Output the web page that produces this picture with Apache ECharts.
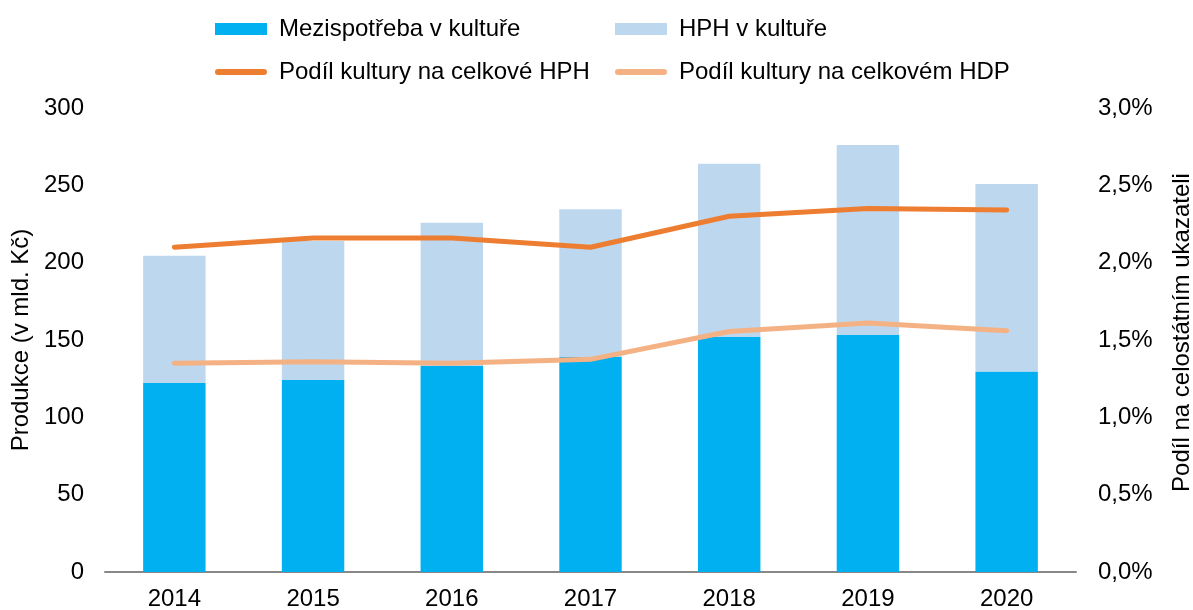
<!DOCTYPE html>
<html>
<head>
<meta charset="utf-8">
<script src="https://cdn.jsdelivr.net/npm/echarts@6/dist/echarts.min.js"></script>
<style>
  html, body { margin: 0; padding: 0; background: #fff; overflow: hidden; }
  #chart { width: 1193px; height: 610px; }
</style>
</head>
<body>
<div id="chart"></div>
<script>
// roky
var years = ['2014', '2015', '2016', '2017', '2018', '2019', '2020'];
// mld. Kč
var mezispotreba = [122.2, 124.1, 133.2, 139.0, 151.9, 153.2, 129.7];
var hph = [82.2, 89.9, 92.6, 95.5, 112.1, 122.8, 121.1];
// podíly v %
var podilHPH = [2.10, 2.16, 2.16, 2.10, 2.30, 2.35, 2.34];
var podilHDP = [1.35, 1.36, 1.35, 1.375, 1.555, 1.61, 1.56];

var font = 'Liberation Sans, Arial, sans-serif';
var txt = { color: '#000', fontSize: 24, fontFamily: font, padding: [0, 0, 0, 7] };
// ikona čáry v legendě (zaoblená)
var lineIcon = 'path://M3,0 L49,0 A3,3 0 0 1 49,6 L3,6 A3,3 0 0 1 3,0 Z';

var chart = echarts.init(document.getElementById('chart'));

chart.setOption({
  animation: false,
  textStyle: { fontFamily: font },
  legend: [
    {
      left: 210, top: 12, orient: 'vertical', itemGap: 19,
      itemWidth: 52, itemHeight: 12, textStyle: txt,
      data: [
        { name: 'Mezispotřeba v kultuře', icon: 'rect' },
        { name: 'Podíl kultury na celkové HPH', icon: lineIcon }
      ]
    },
    {
      left: 610, top: 12, orient: 'vertical', itemGap: 19,
      itemWidth: 52, itemHeight: 12, textStyle: txt,
      data: [
        { name: 'HPH v kultuře', icon: 'rect' },
        { name: 'Podíl kultury na celkovém HDP', icon: lineIcon }
      ]
    }
  ],
  grid: { left: 105, right: 117, top: 108, bottom: 38, outerBoundsMode: 'none' },
  xAxis: {
    type: 'category',
    data: years,
    axisLine: { lineStyle: { color: '#888', width: 2 } },
    axisTick: { show: false },
    axisLabel: { color: '#000', fontSize: 24, margin: 15 }
  },
  yAxis: [
    {
      type: 'value', min: 0, max: 300, interval: 50,
      name: 'Produkce (v mld. Kč)', nameLocation: 'middle', nameGap: 67,
      nameTextStyle: { color: '#000', fontSize: 24 },
      axisLine: { show: false }, axisTick: { show: false }, splitLine: { show: false },
      axisLabel: { color: '#000', fontSize: 24, margin: 21 }
    },
    {
      type: 'value', min: 0, max: 3, interval: 0.5,
      name: 'Podíl na celostátním ukazateli', nameLocation: 'middle', nameGap: 94,
      nameRotate: 90,
      nameTextStyle: { color: '#000', fontSize: 24, padding: [0, 0, 0, 15] },
      axisLine: { show: false }, axisTick: { show: false }, splitLine: { show: false },
      axisLabel: {
        color: '#000', fontSize: 24, margin: 22,
        formatter: function (v) { return v.toFixed(1).replace('.', ',') + '%'; }
      }
    }
  ],
  series: [
    {
      name: 'Mezispotřeba v kultuře', type: 'bar', stack: 'p', barWidth: '45%',
      itemStyle: { color: '#00B0F0' }, data: mezispotreba
    },
    {
      name: 'HPH v kultuře', type: 'bar', stack: 'p', barWidth: '45%',
      itemStyle: { color: '#BDD7EE' }, data: hph
    },
    {
      name: 'Podíl kultury na celkové HPH', type: 'line', yAxisIndex: 1,
      symbol: 'none', itemStyle: { color: '#ED7D31' },
      lineStyle: { color: '#ED7D31', width: 5, cap: 'round', join: 'round' },
      data: podilHPH
    },
    {
      name: 'Podíl kultury na celkovém HDP', type: 'line', yAxisIndex: 1,
      symbol: 'none', itemStyle: { color: '#F4B183' },
      lineStyle: { color: '#F4B183', width: 5, cap: 'round', join: 'round' },
      data: podilHDP
    }
  ]
});
</script>
</body>
</html>
